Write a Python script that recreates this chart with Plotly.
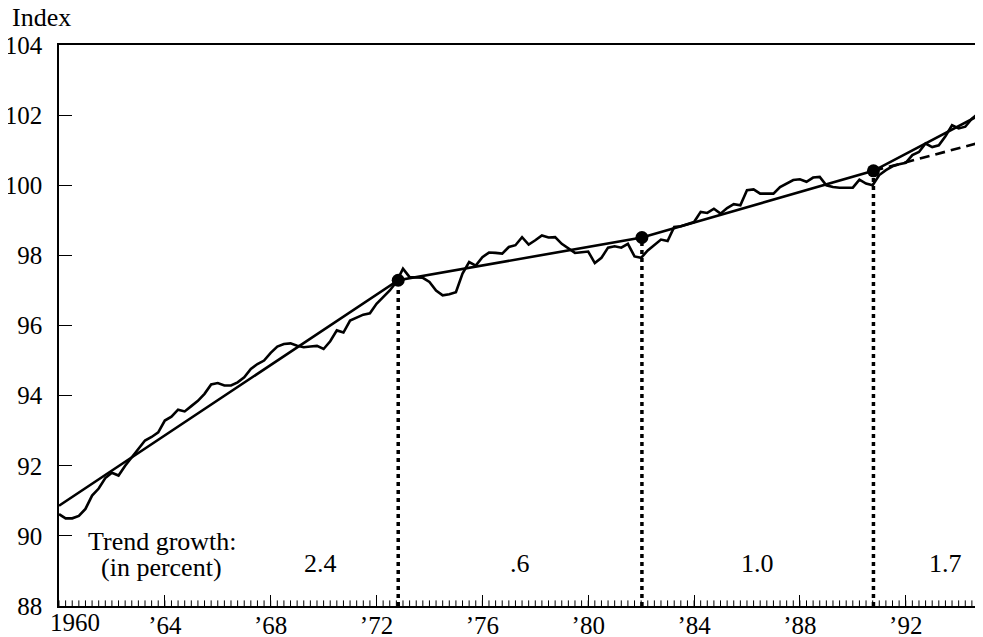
import plotly.graph_objects as go

# ---- data ----
start_year = 1960
actual_index = [
    90.62, 90.50, 90.50, 90.57,   # 1960
    90.77, 91.15, 91.35, 91.65,   # 1961
    91.80, 91.72, 92.00, 92.25,   # 1962
    92.50, 92.72, 92.82, 92.95,   # 1963
    93.29, 93.40, 93.60, 93.55,   # 1964
    93.70, 93.85, 94.05, 94.32,   # 1965
    94.36, 94.29, 94.29, 94.38,   # 1966
    94.52, 94.76, 94.90, 95.00,   # 1967
    95.22, 95.40, 95.47, 95.49,   # 1968
    95.42, 95.38, 95.40, 95.42,   # 1969
    95.33, 95.55, 95.86, 95.80,   # 1970
    96.14, 96.22, 96.31, 96.35,   # 1971
    96.62, 96.81, 97.00, 97.24,   # 1972
    97.62, 97.38, 97.37, 97.36,   # 1973
    97.24, 97.00, 96.86, 96.89,   # 1974
    96.95, 97.48, 97.81, 97.71,   # 1975
    97.95, 98.08, 98.07, 98.05,   # 1976
    98.24, 98.29, 98.52, 98.31,   # 1977
    98.43, 98.57, 98.51, 98.52,   # 1978
    98.33, 98.21, 98.07, 98.09,   # 1979
    98.11, 97.78, 97.93, 98.22,   # 1980
    98.26, 98.22, 98.33, 97.97,   # 1981
    97.93, 98.14, 98.29, 98.45,   # 1982
    98.41, 98.81, 98.83, 98.90,   # 1983
    98.95, 99.24, 99.21, 99.33,   # 1984
    99.19, 99.35, 99.46, 99.43,   # 1985
    99.86, 99.88, 99.76, 99.76,   # 1986
    99.76, 99.95, 100.05, 100.15, # 1987
    100.17, 100.10, 100.22, 100.24, # 1988
    100.00, 99.95, 99.93, 99.93,  # 1989
    99.93, 100.16, 100.05, 100.00, # 1990
    100.29, 100.43, 100.54, 100.60, # 1991
    100.64, 100.86, 100.95, 101.19, # 1992
    101.09, 101.14, 101.40, 101.71, # 1993
    101.62, 101.67, 101.90, 102.05, # 1994
]
quarter_dates = [start_year + i * 0.25 for i in range(len(actual_index))]

trend_dates = [1960.0, 1972.82, 1982.03, 1990.78, 1994.92]
trend_values = [90.86, 97.29, 98.51, 100.41, 102.05]

break_dates = [1972.82, 1982.03, 1990.78]
break_values = [97.29, 98.51, 100.41]

extension_dates = [1990.78, 1994.92]
extension_values = [100.41, 101.24]

growth_labels = ["2.4", ".6", "1.0", "1.7"]
growth_label_x = [1969.9, 1977.42, 1986.38, 1993.49]

x_tick_labels = {"1960": " ", "1964": "\u201964", "1968": "\u201968", "1972": "\u201972",
                 "1976": "\u201976", "1980": "\u201980", "1984": "\u201984",
                 "1988": "\u201988", "1992": "\u201992"}
first_year_label = "1960"
y_ticks = [88, 90, 92, 94, 96, 98, 100, 102, 104]

FONT = "Liberation Serif"
FS = 25
AFS = 26
X_RANGE = [1960, 1994.92]
Y_RANGE = [88, 104]

fig = go.Figure()

# quarterly minor ticks along the bottom axis (lower half clipped by plot area)
fig.add_trace(go.Scatter(x=quarter_dates, y=[Y_RANGE[0]] * len(quarter_dates),
                         mode="markers", cliponaxis=True, hoverinfo="skip",
                         marker=dict(symbol="line-ns", size=8,
                                     line=dict(color="black", width=1)),
                         showlegend=False))

# dotted vertical break lines
for xd, yv in zip(break_dates, break_values):
    fig.add_trace(go.Scatter(x=[xd, xd], y=[Y_RANGE[0], yv], mode="lines",
                             line=dict(color="black", width=3.5, dash="4px,4px"),
                             hoverinfo="skip", showlegend=False))

# dashed extension
fig.add_trace(go.Scatter(x=extension_dates, y=extension_values, mode="lines",
                         line=dict(color="black", width=2.6, dash="10px,6px"),
                         showlegend=False))
# trend
fig.add_trace(go.Scatter(x=trend_dates, y=trend_values, mode="lines",
                         line=dict(color="black", width=2.6), showlegend=False))
# actual
fig.add_trace(go.Scatter(x=quarter_dates, y=actual_index, mode="lines",
                         line=dict(color="black", width=2.6), showlegend=False))
# break dots
fig.add_trace(go.Scatter(x=break_dates, y=break_values, mode="markers",
                         marker=dict(color="black", size=13), showlegend=False))

annotations = [
    dict(text="Index", x=-0.053, y=1.049, xref="paper", yref="paper",
         xanchor="left", yanchor="middle", showarrow=False,
         font=dict(size=AFS)),
    dict(text=first_year_label, x=1960.6, y=0, xref="x", yref="paper",
         xanchor="center", yanchor="top", yshift=-1, showarrow=False,
         font=dict(size=FS)),
    dict(text="Trend growth:", x=1963.92, y=89.85, xref="x", yref="y",
         xanchor="center", yanchor="middle", showarrow=False,
         font=dict(size=AFS)),
    dict(text="(in percent)", x=1963.88, y=89.1, xref="x", yref="y",
         xanchor="center", yanchor="middle", showarrow=False,
         font=dict(size=AFS)),
]
for lbl, lx in zip(growth_labels, growth_label_x):
    annotations.append(dict(text=lbl, x=lx, y=89.2, xref="x", yref="y",
                            xanchor="center", yanchor="middle", showarrow=False,
                            font=dict(size=AFS)))

# page body has an 8px default margin: figure sized to fit the window
fig.update_layout(
    width=975, height=629,
    margin=dict(l=51, r=0, t=37, b=31, autoexpand=False),
    paper_bgcolor="white", plot_bgcolor="white",
    font=dict(family=FONT, size=FS, color="black"),
    showlegend=False,
    annotations=annotations,
    xaxis=dict(
        range=X_RANGE, automargin=False,
        tickmode="linear", tick0=1960, dtick=4,
        labelalias=x_tick_labels,
        ticks="inside", ticklen=11, tickwidth=1.2, tickcolor="black",
        showline=True, linecolor="black", linewidth=1.5, mirror=True,
        showgrid=False, zeroline=False,
        ticklabelstandoff=-4,
        tickfont=dict(family=FONT, size=FS, color="black"),
    ),
    yaxis=dict(
        range=Y_RANGE, automargin=False,
        tickmode="array", tickvals=y_ticks,
        ticks="inside", ticklen=13, tickwidth=1.2, tickcolor="black",
        showline=True, linecolor="black", linewidth=1.5,
        showgrid=False, zeroline=False,
        ticklabelstandoff=10,
        tickfont=dict(family=FONT, size=FS, color="black"),
    ),
)

fig.write_html("out.html")
